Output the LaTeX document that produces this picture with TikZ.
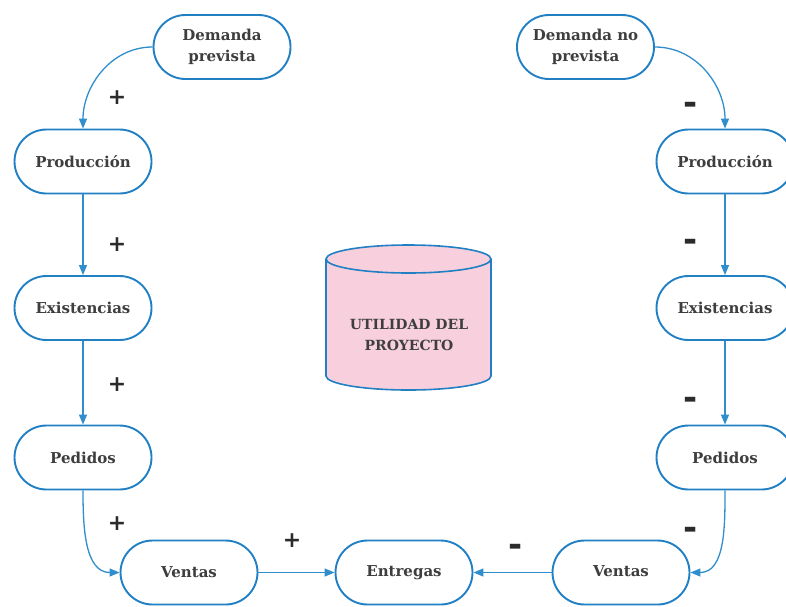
\documentclass[tikz,border=0pt]{standalone}
\usepackage{fontspec}
\setmainfont{DejaVu Serif}[BoldFont={DejaVu Serif Bold}]
\newfontfamily\signfont{DejaVu Sans}
\usetikzlibrary{arrows.meta}
\definecolor{edgeblue}{RGB}{33,128,196}
\definecolor{linkblue}{RGB}{48,142,205}
\definecolor{textgray}{RGB}{62,62,62}
\definecolor{cylpink}{RGB}{248,208,221}
\tikzset{
  pill/.style={draw=edgeblue, line width=1.9pt, rounded corners=32pt,
    minimum width=137pt, minimum height=64pt, fill=white,
    text=textgray, font=\bfseries\fontsize{15}{21}\selectfont, align=center, inner sep=0pt},
  link/.style={draw=linkblue, line width=1.3pt, -{Triangle[length=10pt,width=8pt]}},
  sign/.style={text=textgray!70!black, font=\signfont\bfseries\fontsize{22}{22}\selectfont, inner sep=0pt},
  minus/.style={sign, font=\signfont\bfseries\fontsize{34}{34}\selectfont},
}
\begin{document}
\begin{tikzpicture}[x=1pt,y=-1pt]
\useasboundingbox (0,0) rectangle (786,606);
\clip (0,0) rectangle (786,606);
% left chain
\node[pill] (dp)   at (222,47)   {Demanda\\prevista};
\node[pill] (prodL) at (83,161.5) {Producción};
\node[pill] (exL)  at (83,308)   {Existencias};
\node[pill] (pedL) at (83,457.5) {Pedidos};
\node[pill] (venL) at (189,572.5) {Ventas};
% centre
\node[pill] (ent)  at (404,572.5) {\strut Entregas};
% right chain
\node[pill] (dnp)  at (585.5,47) {Demanda no\\prevista};
\node[pill] (prodR) at (725,161.5) {Producción};
\node[pill] (exR)  at (725,308)   {Existencias};
\node[pill] (pedR) at (725,457.5) {Pedidos};
\node[pill] (venR) at (621,572.5) {\strut Ventas};
% cylinder
\fill[cylpink] (326,259) -- (326,376) arc[start angle=180,end angle=360,x radius=82.5,y radius=-14]
  -- (491,259) arc[start angle=0,end angle=-180,x radius=82.5,y radius=-14] -- cycle;
\draw[edgeblue, line width=1.6pt] (326,259) -- (326,376) arc[start angle=180,end angle=360,x radius=82.5,y radius=-14] -- (491,259);
\draw[edgeblue, fill=cylpink, line width=1.6pt] (408.5,259) ellipse[x radius=82.5, y radius=14];
\node[text=textgray, font=\bfseries\fontsize{14}{21}\selectfont, align=center] (util) at (409,335) {UTILIDAD DEL\\PROYECTO};
% connectors
\draw[link] (dp.west) to[out=180,in=90] (prodL.north);
\draw[link] (prodL.south) -- (exL.north);
\draw[link] (exL.south) -- (pedL.north);
\draw[link] (pedL.south) to[out=-90,in=180] (venL.west);
\draw[link] (venL.east) -- (ent.west);
\draw[link] (dnp.east) to[out=0,in=90] (prodR.north);
\draw[link] (prodR.south) -- (exR.north);
\draw[link] (exR.south) -- (pedR.north);
\draw[link] (pedR.south) to[out=-90,in=0] (venR.east);
\draw[link] (venR.west) -- (ent.east);
% signs
\node[sign] (s1) at (117,98) {+};
\node[sign] (s2) at (117,245) {+};
\node[sign] (s3) at (117,385) {+};
\node[sign] (s4) at (117,524) {+};
\node[sign] (s5) at (292,541) {+};
\node[minus] (m1) at (691,108) {-};
\node[minus] (m2) at (691,245) {-};
\node[minus] (m3) at (691,403) {-};
\node[minus] (m4) at (691,533) {-};
\node[minus] (m5) at (516,550) {-};
\end{tikzpicture}
\end{document}
